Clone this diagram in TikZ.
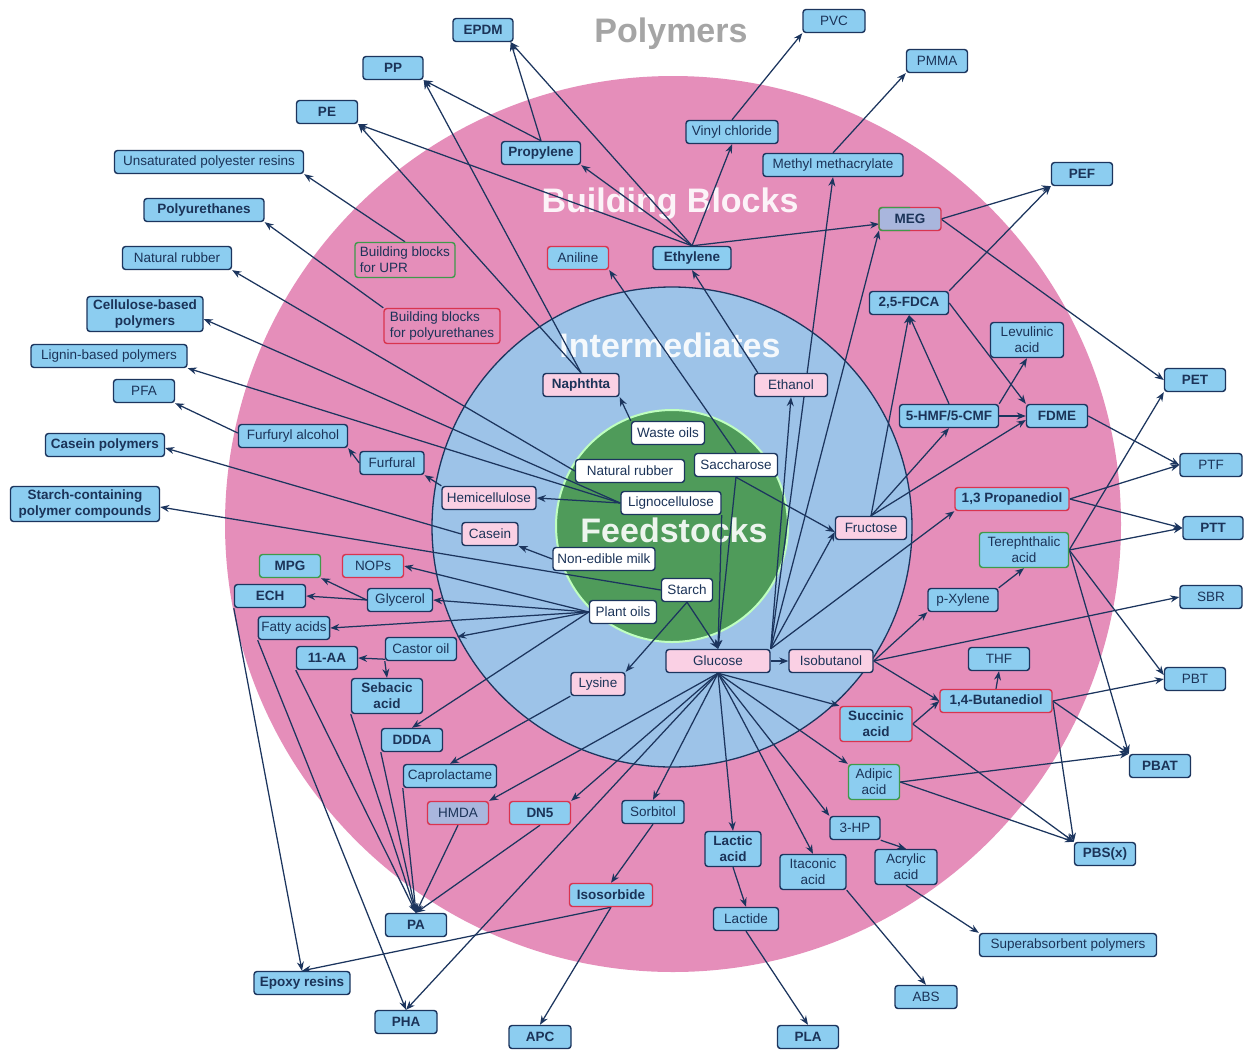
\documentclass[tikz,border=0pt]{standalone}
\usepackage{fontspec}
\setmainfont{Liberation Sans}
\usetikzlibrary{arrows.meta}
\definecolor{navy}{HTML}{1C355E}
\definecolor{lbl}{HTML}{1B3358}
\definecolor{boxfill}{HTML}{8CCDF0}
\definecolor{ringpink}{HTML}{E58EBA}
\definecolor{midblue}{HTML}{9DC3E8}
\definecolor{feedgreen}{HTML}{4F9B5A}
\definecolor{interpink}{HTML}{FAD0E4}
\definecolor{redb}{HTML}{D9344F}
\definecolor{greenb}{HTML}{3F9A4B}
\definecolor{lav}{HTML}{A9B6DD}
\definecolor{titlegray}{HTML}{A5A5A5}
\pgfdeclarelayer{back}
\pgfdeclarelayer{edges}
\pgfsetlayers{back,edges,main}
\begin{document}
\begin{tikzpicture}[x=1pt,y=-1pt,
  lab/.style={font=\fontsize{13.5}{16}\selectfont, text=lbl},
  box/.style={lab, draw=navy, line width=1.4pt, rounded corners=3pt, fill=boxfill, minimum height=23pt, inner xsep=3pt, inner ysep=2pt, align=center},
  bf/.style={font=\fontsize{13.5}{16}\selectfont\bfseries},
  mw/.style={minimum width=#1pt},
  redbox/.style={draw=redb},
  greenbox/.style={draw=greenb},
  inter/.style={box, fill=interpink},
  feed/.style={box, fill=white},
  lavbox/.style={fill=lav},
  tall/.style={minimum height=35pt},
  ar/.style={draw=navy, line width=1.25pt, -{Stealth[length=9pt,width=7pt]}},
  title/.style={font=\fontsize{34}{38}\selectfont\bfseries, anchor=base}
]
\useasboundingbox (0,0) rectangle (1245,1050);
\begin{pgfonlayer}{back}
\fill[white] (0,0) rectangle (1245,1050);
\fill[ringpink] (673,524) circle[radius=448pt];
\filldraw[fill=midblue, draw=navy, line width=1.3pt] (672,527) circle[radius=240pt];
\filldraw[fill=feedgreen, draw=white!75!green, line width=2pt] (672,526) circle[radius=116pt];
\node[title, text=titlegray] (tPoly) at (671,42) {Polymers};
\node[title, text=white, opacity=0.9] (tBB) at (670,212) {Building Blocks};
\node[title, text=white, opacity=0.9] (tInt) at (670,357) {Intermediates};
\node[title, text=white, opacity=0.9] (tFeed) at (674,542) {Feedstocks};
\end{pgfonlayer}

% ---------- polymers ----------
\node[box,bf,mw=60] (EPDM) at (483,30) {EPDM};
\node[box,mw=62] (PVC) at (834,21) {PVC};
\node[box,bf,mw=60] (PP) at (393,68) {PP};
\node[box,mw=61] (PMMA) at (937,61) {PMMA};
\node[box,bf,mw=61] (PE) at (327,112) {PE};
\node[box,mw=189] (UPR) at (209,162) {Unsaturated polyester resins};
\node[box,bf,mw=61] (PEF) at (1082,174) {PEF};
\node[box,bf,mw=120] (PU) at (204,210) {Polyurethanes};
\node[box,mw=109] (NRp) at (177,258) {Natural rubber};
\node[box,bf,mw=116,tall] (Cell) at (145,314) {Cellulose-based\\polymers};
\node[box,mw=156] (Lig) at (109,356) {Lignin-based polymers};
\node[box,mw=61] (PFA) at (144,391) {PFA};
\node[box,bf,mw=119] (CasP) at (105,445) {Casein polymers};
\node[box,bf,mw=149,tall] (StP) at (85,504) {Starch-containing\\polymer compounds};
\node[box,bf,mw=61] (PET) at (1195,380) {PET};
\node[box,mw=62] (PTF) at (1211,465) {PTF};
\node[box,bf,mw=60] (PTT) at (1213,528) {PTT};
\node[box,mw=62] (SBR) at (1211,597) {SBR};
\node[box,mw=61] (PBT) at (1195,679) {PBT};
\node[box,bf,mw=61] (PBAT) at (1160,766) {PBAT};
\node[box,bf,mw=61] (PBS) at (1105,854) {PBS(x)};
\node[box,mw=177] (SAP) at (1068,945) {Superabsorbent polymers};
\node[box,mw=62] (ABS) at (926,997) {ABS};
\node[box,bf,mw=61] (PLA) at (808,1037) {PLA};
\node[box,bf,mw=62] (APC) at (540,1037) {APC};
\node[box,bf,mw=62] (PHA) at (406,1022) {PHA};
\node[box,bf,mw=96] (Epoxy) at (302,983) {Epoxy resins};
\node[box,bf,mw=61] (PA) at (416,925) {PA};

% ---------- building blocks ----------
\node[box,bf,mw=79] (Propylene) at (541,153) {Propylene};
\node[box,mw=92] (VC) at (732,132) {Vinyl chloride};
\node[box,mw=140] (MMA) at (833,165) {Methyl methacrylate};
\node[box,bf,mw=62,redbox,lavbox,outer sep=0pt] (MEG) at (910,219) {MEG};
\draw[greenb, line width=1.4pt, rounded corners=3pt] (MEG.north) -| (MEG.west) |- (MEG.south);
\node[box,mw=100,tall,greenbox,fill=ringpink,align=left] (BBUPR) at (405,260) {Building blocks\\for UPR};
\node[box,mw=61,redbox] (Aniline) at (578,258) {Aniline};
\node[box,bf,mw=78] (Ethylene) at (692,258) {Ethylene};
\node[box,mw=116,tall,redbox,fill=ringpink,align=left] (BBPU) at (442,326) {Building blocks\\for polyurethanes};
\node[box,bf,mw=79] (FDCA) at (909,303) {2,5-FDCA};
\node[box,mw=73,tall] (Levu) at (1027,340) {Levulinic\\acid};
\node[box,bf,mw=99] (HMF) at (949,416) {5-HMF/5-CMF};
\node[box,bf,mw=61] (FDME) at (1057,416) {FDME};
\node[box,bf,mw=114,redbox] (PDO) at (1012,499) {1,3 Propanediol};
\node[box,mw=89,tall,greenbox] (TPA) at (1024,550) {Terephthalic\\acid};
\node[box,mw=70] (PX) at (963,600) {p-Xylene};
\node[box,mw=61] (THF) at (999,659) {THF};
\node[box,bf,mw=112,redbox] (BDO) at (996,701) {1,4-Butanediol};
\node[box,bf,mw=72,tall,redbox] (SA) at (876,724) {Succinic\\acid};
\node[box,mw=51,tall,greenbox] (AA) at (874,782) {Adipic\\acid};
\node[box,mw=50] (HP) at (855,828) {3-HP};
\node[box,mw=62,tall] (AcA) at (906,867) {Acrylic\\acid};
\node[box,mw=66,tall] (IA) at (813,872) {Itaconic\\acid};
\node[box,bf,mw=56,tall] (LA) at (733,849) {Lactic\\acid};
\node[box,mw=65] (Lactide) at (746,919) {Lactide};
\node[box,mw=62] (Sorbitol) at (653,812) {Sorbitol};
\node[box,bf,mw=83,redbox] (Iso) at (611,895) {Isosorbide};
\node[box,bf,mw=61,redbox] (DN5) at (540,813) {DN5};
\node[box,mw=61,redbox,lavbox] (HMDA) at (458,813) {HMDA};
\node[box,mw=93] (Capro) at (450,776) {Caprolactame};
\node[box,bf,mw=61] (DDDA) at (412,740) {DDDA};
\node[box,bf,mw=71,tall] (Seb) at (387,696) {Sebacic\\acid};
\node[box,bf,mw=61] (AA11) at (327,658) {11-AA};
\node[box,mw=71] (Castor) at (421,649) {Castor oil};
\node[box,mw=71] (FA) at (294,628) {Fatty acids};
\node[box,bf,mw=71] (ECH) at (270,596) {ECH};
\node[box,mw=65] (Gly) at (400,600) {Glycerol};
\node[box,bf,mw=61,greenbox] (MPG) at (290,566) {MPG};
\node[box,mw=61,redbox] (NOPs) at (373,566) {NOPs};
\node[box,mw=109] (FAlc) at (293,436) {Furfuryl alcohol};
\node[box,mw=64] (Furfural) at (392,463) {Furfural};

% ---------- intermediates ----------
\node[inter,bf,mw=76] (Naph) at (581,385) {Naphthta};
\node[inter,mw=73] (Ethanol) at (791,385) {Ethanol};
\node[inter,mw=94] (Hemi) at (489,498) {Hemicellulose};
\node[inter,mw=56] (Casein) at (490,534) {Casein};
\node[inter,mw=71] (Fructose) at (871,528) {Fructose};
\node[inter,mw=104] (Glucose) at (718,661) {Glucose};
\node[inter,mw=84] (Isobut) at (831,661) {Isobutanol};
\node[inter,mw=54] (Lysine) at (598,684) {Lysine};

% ---------- feedstocks ----------
\node[feed,mw=73] (Waste) at (668,433) {Waste oils};
\node[feed,mw=109] (NRf) at (630,471) {Natural rubber};
\node[feed,mw=83] (Sacch) at (736,465) {Saccharose};
\node[feed,mw=100] (Ligno) at (671,503) {Lignocellulose};
\node[feed,mw=102] (Milk) at (604,559) {Non-edible milk};
\node[feed,mw=51] (Starch) at (687,590) {Starch};
\node[feed,mw=67] (Plant) at (623,612) {Plant oils};

% ---------- connectors ----------
\begin{pgfonlayer}{edges}
\draw[ar] (Propylene.north) -- ([xshift=-3pt]EPDM.south east);
\draw[ar] (Propylene.north) -- (PP.south east);
\draw[ar] (Ethylene.north) -- ([xshift=-3pt]EPDM.south east);
\draw[ar] (Ethylene.north) -- (PE.south east);
\draw[ar] (Ethylene.north) -- (Propylene.south east);
\draw[ar] (Ethylene.north) -- (VC.south);
\draw[ar] (Ethylene.north) -- ([yshift=-5pt]MEG.west);
\draw[ar] (VC.north) -- (PVC.south west);
\draw[ar] (MMA.north) -- (PMMA.south west);
\draw[ar] (Naph.north) -- (PP.south east);
\draw[ar] (Naph.north) -- (PE.south east);
\draw[ar] (Waste.north west) -- (Naph.south east);
\draw[ar] ([xshift=4pt]Ethanol.north west) -- (Ethylene.south);
\draw[ar] (Sacch.north) -- (Aniline.south east);
\draw[ar] (BBUPR.north) -- (UPR.south east);
\draw[ar] (BBPU.north west) -- (PU.south east);
\draw[ar] (NRf.west) -- (NRp.south east);
\draw[ar] (Ligno.west) -- ([yshift=-5pt]Cell.east);
\draw[ar] (Ligno.west) -- (Lig.south east);
\draw[ar] (Ligno.west) -- (Hemi.east);
\draw[ar] (Hemi.north west) -- (Furfural.south east);
\draw[ar] (Furfural.west) -- (FAlc.south east);
\draw[ar] ([yshift=3pt]FAlc.west) -- (PFA.south east);
\draw[ar] (Casein.west) -- ([yshift=-3pt]CasP.east);
\draw[ar] (Milk.west) -- (Casein.south east);
\draw[ar] (Starch.west) -- ([yshift=-3pt]StP.east);
\draw[ar] (Plant.west) -- (NOPs.east);
\draw[ar] (Plant.west) -- (Gly.east);
\draw[ar] (Plant.west) -- (FA.east);
\draw[ar] (Plant.west) -- (Castor.north east);
\draw[ar] (Plant.west) -- (DDDA.north);
\draw[ar] (Gly.west) -- (MPG.south east);
\draw[ar] (Gly.west) -- (ECH.east);
\draw[ar] ([yshift=2pt]Castor.south west) -- (AA11.east);
\draw[ar] (Castor.south west) -- (Seb.north);
\draw[ar] (ECH.south west) -- (Epoxy.north);
\draw[ar] (Iso.south) -- (Epoxy.north);
\draw[ar] (Iso.south) -- (APC.north);
\draw[ar] (FA.south west) -- (PHA.north);
\draw[ar] (Glucose.south) -- (PHA.north);
\draw[ar] (AA11.south west) -- (PA.north);
\draw[ar] (Seb.south west) -- (PA.north);
\draw[ar] (DDDA.south west) -- (PA.north);
\draw[ar] (Capro.south west) -- (PA.north);
\draw[ar] (HMDA.south) -- (PA.north);
\draw[ar] (DN5.south) -- (PA.north);
\draw[ar] (Lysine.south west) -- (Capro.north);
\draw[ar] (Starch.south) -- (Lysine.north east);
\draw[ar] (Starch.south) -- (Glucose.north);
\draw[ar] (Sacch.south) -- (Glucose.north);
\draw[ar] (Ligno.south east) -- (Glucose.north);
\draw[ar] (Sacch.south) -- ([yshift=-4pt]Fructose.west);
\draw[ar] (Glucose.south) -- (HMDA.north east);
\draw[ar] (Glucose.south) -- (DN5.north east);
\draw[ar] (Glucose.south) -- (Sorbitol.north);
\draw[ar] (Glucose.south) -- (LA.north);
\draw[ar] (Glucose.south) -- (IA.north);
\draw[ar] (Glucose.south) -- (HP.north west);
\draw[ar] (Glucose.south) -- (AA.north west);
\draw[ar] (Glucose.south) -- (SA.north west);
\draw[ar] (Glucose.east) -- (Isobut.west);
\draw[ar] (Glucose.north east) -- (Ethanol.south);
\draw[ar] (Glucose.north east) -- (MMA.south);
\draw[ar] (Glucose.north east) -- (MEG.south west);
\draw[ar] (Glucose.north east) -- ([yshift=-4pt]Fructose.west);
\draw[ar] (Glucose.north east) -- (PDO.south west);
\draw[ar] (Fructose.north) -- (FDCA.south);
\draw[ar] (Fructose.north) -- (HMF.south);
\draw[ar] (Fructose.north) -- ([yshift=-4pt]FDME.west);
\draw[ar] (HMF.north) -- (FDCA.south);
\draw[ar] (HMF.east) -- (FDME.west);
\draw[ar] (HMF.north east) -- (Levu.south);
\draw[ar] (FDCA.east) -- (FDME.north west);
\draw[ar] (FDCA.north east) -- (PEF.south west);
\draw[ar] (MEG.east) -- (PEF.south west);
\draw[ar] (MEG.east) -- (PET.west);
\draw[ar] (TPA.east) -- (PET.south west);
\draw[ar] (TPA.east) -- (PTT.west);
\draw[ar] (TPA.east) -- ([yshift=4pt]PBT.west);
\draw[ar] (TPA.east) -- (PBAT.north west);
\draw[ar] (PDO.east) -- (PTF.west);
\draw[ar] (PDO.east) -- (PTT.west);
\draw[ar] (FDME.east) -- (PTF.west);
\draw[ar] (PX.north east) -- (TPA.south);
\draw[ar] (Isobut.east) -- (PX.south west);
\draw[ar] (Isobut.east) -- (SBR.west);
\draw[ar] (Isobut.east) -- (BDO.west);
\draw[ar] (SA.east) -- (BDO.west);
\draw[ar] (BDO.north) -- (THF.south);
\draw[ar] (BDO.east) -- (PBT.west);
\draw[ar] (BDO.east) -- (PBAT.north west);
\draw[ar] (BDO.east) -- (PBS.north west);
\draw[ar] (SA.east) -- (PBS.north west);
\draw[ar] (AA.east) -- (PBS.north west);
\draw[ar] (AA.east) -- (PBAT.north west);
\draw[ar] (HP.south east) -- (AcA.north);
\draw[ar] (AcA.south) -- (SAP.north west);
\draw[ar] (IA.south east) -- (ABS.north);
\draw[ar] (LA.south) -- (Lactide.north);
\draw[ar] (Lactide.south) -- (PLA.north);
\draw[ar] (Sorbitol.south) -- (Iso.north);
\end{pgfonlayer}
\end{tikzpicture}
\end{document}
